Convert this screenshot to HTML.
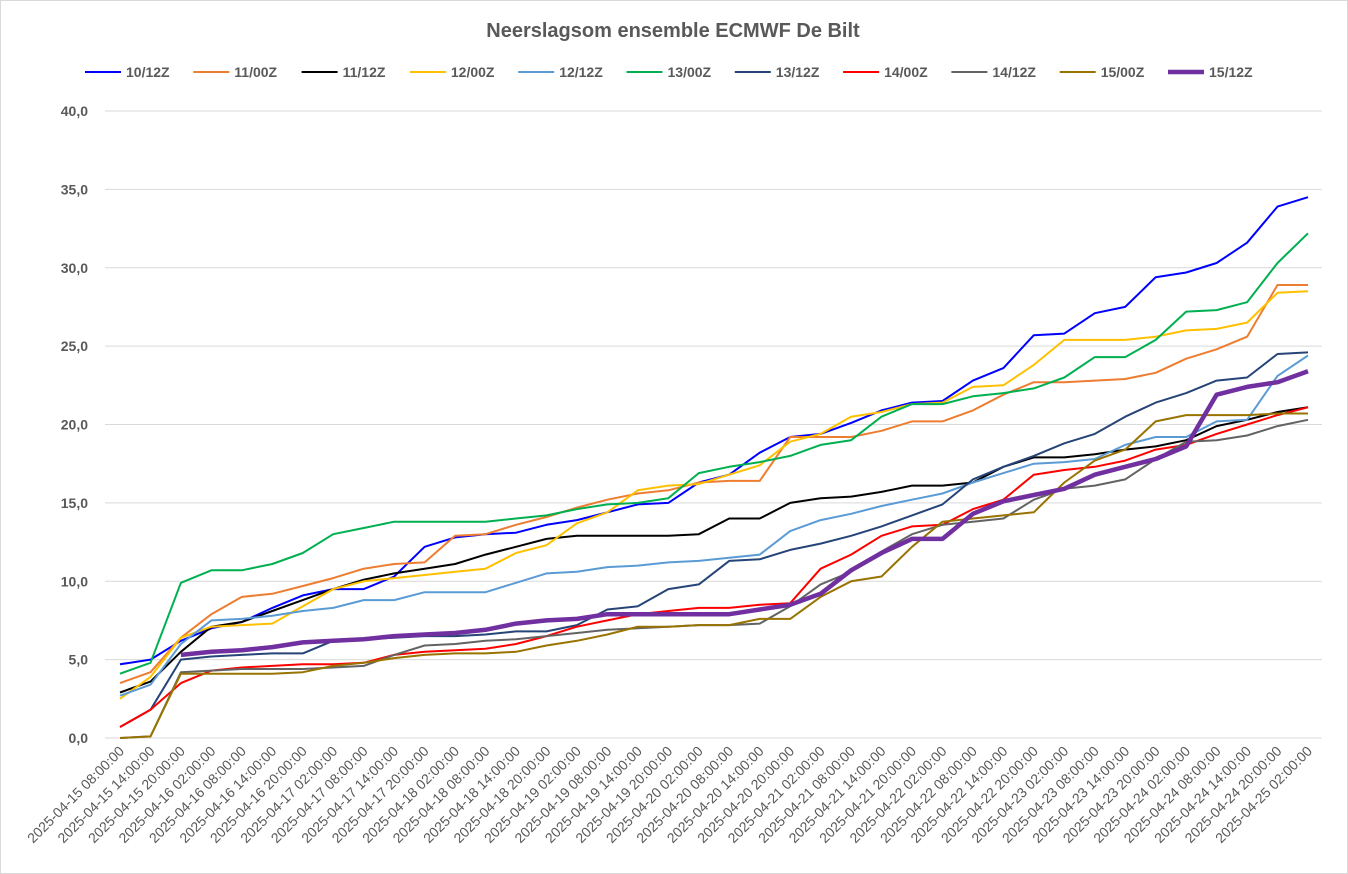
<!DOCTYPE html>
<html><head><meta charset="utf-8"><style>
html,body{margin:0;padding:0;background:#fff;}
svg{display:block;font-family:"Liberation Sans",sans-serif;}
</style></head><body>
<svg id="chart" width="1348" height="874" viewBox="0 0 1348 874" xmlns="http://www.w3.org/2000/svg">
<rect x="0.5" y="0.5" width="1347" height="873" fill="#fff" stroke="#d9d9d9"/>
<text x="673" y="37" text-anchor="middle" font-size="20" font-weight="bold" fill="#595959">Neerslagsom ensemble ECMWF De Bilt</text>
<g id="grid"></g><g id="yt"></g><g id="xt"></g><g id="series"></g><g id="legend"></g>
</svg>
<script>
const categories = (function(){const a=[];let d=new Date(Date.UTC(2025,3,15,8));for(let i=0;i<40;i++){const p=n=>String(n).padStart(2,'0');a.push(d.getUTCFullYear()+'-'+p(d.getUTCMonth()+1)+'-'+p(d.getUTCDate())+' '+p(d.getUTCHours())+':00:00');d=new Date(d.getTime()+6*3600e3);}return a;})();
const yTicks = [0,5,10,15,20,25,30,35,40];
const seriesNames = ["10/12Z","11/00Z","11/12Z","12/00Z","12/12Z","13/00Z","13/12Z","14/00Z","14/12Z","15/00Z","15/12Z"];
const seriesColors = ["#0000ff","#ed7d31","#000000","#ffc000","#5b9bd5","#00b050","#264478","#ff0000","#636363","#997300","#7030a0"];
const s1012 = [4.7,5.0,6.2,7.0,7.4,8.3,9.1,9.5,9.5,10.3,12.2,12.8,13.0,13.1,13.6,13.9,14.4,14.9,15.0,16.3,16.8,18.2,19.2,19.4,20.1,20.9,21.4,21.5,22.8,23.6,25.7,25.8,27.1,27.5,29.4,29.7,30.3,31.6,33.9,34.5];
const s1100 = [3.5,4.2,6.4,7.9,9.0,9.2,9.7,10.2,10.8,11.1,11.2,12.9,13.0,13.6,14.1,14.7,15.2,15.6,15.8,16.3,16.4,16.4,19.2,19.2,19.2,19.6,20.2,20.2,20.9,21.9,22.7,22.7,22.8,22.9,23.3,24.2,24.8,25.6,28.9,28.9];
const s1112 = [2.9,3.6,5.5,7.1,7.4,8.1,8.8,9.5,10.1,10.5,10.8,11.1,11.7,12.2,12.7,12.9,12.9,12.9,12.9,13.0,14.0,14.0,15.0,15.3,15.4,15.7,16.1,16.1,16.3,17.3,17.9,17.9,18.1,18.4,18.6,19.0,19.9,20.3,20.8,21.1];
const s1200 = [2.5,3.9,6.4,7.1,7.2,7.3,8.4,9.5,10.0,10.2,10.4,10.6,10.8,11.8,12.3,13.7,14.4,15.8,16.1,16.2,16.8,17.4,18.9,19.4,20.5,20.8,21.3,21.4,22.4,22.5,23.8,25.4,25.4,25.4,25.6,26.0,26.1,26.5,28.4,28.5];
const s1212 = [2.7,3.4,6.0,7.5,7.6,7.8,8.1,8.3,8.8,8.8,9.3,9.3,9.3,9.9,10.5,10.6,10.9,11.0,11.2,11.3,11.5,11.7,13.2,13.9,14.3,14.8,15.2,15.6,16.3,16.9,17.5,17.6,17.8,18.7,19.2,19.2,20.2,20.3,23.1,24.4];
const s1300 = [4.1,4.8,9.9,10.7,10.7,11.1,11.8,13.0,13.4,13.8,13.8,13.8,13.8,14.0,14.2,14.6,14.9,15.0,15.3,16.9,17.3,17.6,18.0,18.7,19.0,20.5,21.3,21.3,21.8,22.0,22.3,23.0,24.3,24.3,25.4,27.2,27.3,27.8,30.3,32.2];
const s1312 = [0.7,1.8,5.0,5.2,5.3,5.4,5.4,6.2,6.3,6.4,6.5,6.5,6.6,6.8,6.8,7.2,8.2,8.4,9.5,9.8,11.3,11.4,12.0,12.4,12.9,13.5,14.2,14.9,16.5,17.3,18.0,18.8,19.4,20.5,21.4,22.0,22.8,23.0,24.5,24.6];
const s1400 = [0.7,1.8,3.5,4.3,4.5,4.6,4.7,4.7,4.8,5.3,5.5,5.6,5.7,6.0,6.5,7.1,7.5,7.9,8.1,8.3,8.3,8.5,8.6,10.8,11.7,12.9,13.5,13.6,14.6,15.2,16.8,17.1,17.3,17.7,18.4,18.7,19.4,20.0,20.6,21.1];
const s1412 = [0,0.1,4.2,4.3,4.4,4.4,4.4,4.5,4.6,5.3,5.9,6.0,6.2,6.3,6.5,6.7,6.9,7.0,7.1,7.2,7.2,7.3,8.4,9.8,10.6,11.9,13.0,13.6,13.8,14.0,15.2,15.9,16.1,16.5,17.8,18.9,19.0,19.3,19.9,20.3];
const s1500 = [0,0.1,4.1,4.1,4.1,4.1,4.2,4.6,4.8,5.1,5.3,5.4,5.4,5.5,5.9,6.2,6.6,7.1,7.1,7.2,7.2,7.6,7.6,9.0,10.0,10.3,12.2,13.8,14.0,14.2,14.4,16.3,17.7,18.4,20.2,20.6,20.6,20.6,20.7,20.7];
const s1512 = [null,null,5.3,5.5,5.6,5.8,6.1,6.2,6.3,6.5,6.6,6.7,6.9,7.3,7.5,7.6,7.9,7.9,7.9,7.9,7.9,8.2,8.5,9.2,10.7,11.8,12.7,12.7,14.3,15.1,15.5,15.9,16.8,17.3,17.8,18.6,21.9,22.4,22.7,23.4];
const allSeries = [s1012,s1100,s1112,s1200,s1212,s1300,s1312,s1400,s1412,s1500,s1512];

const NS='http://www.w3.org/2000/svg';
const X0=120,X1=1308,Y0=738,Y40=111;
function xScale(i){return X0+(X1-X0)*i/(categories.length-1);}
function yScale(v){return Y0-(Y0-Y40)*v/40;}
function mk(t,a,p){const e=document.createElementNS(NS,t);for(const k in a)e.setAttribute(k,a[k]);p.appendChild(e);return e;}
const grid=document.getElementById('grid'),yt=document.getElementById('yt'),xt=document.getElementById('xt'),sg=document.getElementById('series'),lg=document.getElementById('legend');
yTicks.forEach(v=>{
  const l=mk('line',{x1:105,x2:1322,y1:yScale(v),y2:yScale(v),stroke:'#d9d9d9','stroke-width':1},grid);
  
  
  const t=mk('text',{x:88,y:yScale(v)+5,'text-anchor':'end','font-size':14,'font-weight':'bold',fill:'#595959'},yt);
  t.textContent=v.toFixed(1).replace('.',',');
  
  
});
categories.forEach((c,i)=>{
  const x=xScale(i)+5,y=752;
  const t=mk('text',{x:x,y:y,'text-anchor':'end','font-size':14,fill:'#595959',transform:`rotate(-45 ${x} ${y})`},xt);
  t.textContent=c;
  
  
});
allSeries.forEach((s,k)=>{
  let d='';let started=false;
  s.forEach((v,i)=>{if(v===null)return;d+=(started?'L':'M')+xScale(i).toFixed(1)+' '+yScale(v).toFixed(1);started=true;});
  const p=mk('path',{d:d,fill:'none',stroke:seriesColors[k],'stroke-width':k===10?4.5:2,'stroke-linejoin':'round'},sg);
  
  
});
seriesNames.forEach((n,k)=>{
  const x=85+k*108.3;
  const g=mk('g',{},lg);
  
  
  mk('line',{x1:x,x2:x+36,y1:72,y2:72,stroke:seriesColors[k],'stroke-width':k===10?4.5:2},g);
  const t=mk('text',{x:x+41,y:77,'font-size':14,'font-weight':'bold',fill:'#595959'},g);
  t.textContent=n;
});
</script>
</body></html>
